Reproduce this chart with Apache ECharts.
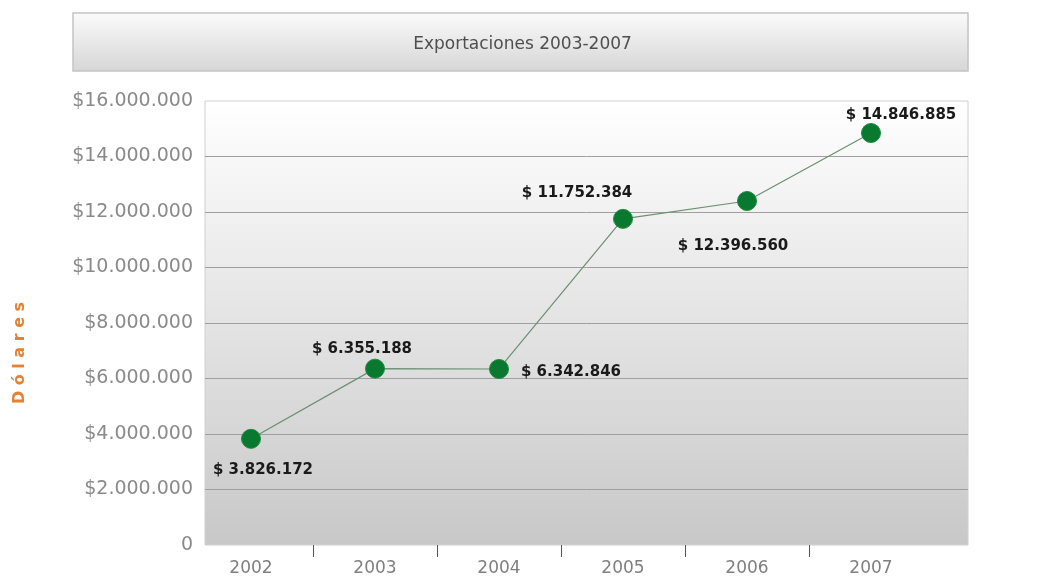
<!DOCTYPE html>
<html>
<head>
<meta charset="utf-8">
<title>Exportaciones 2003-2007</title>
<script src="https://cdn.jsdelivr.net/npm/echarts@6/dist/echarts.min.js"></script>
<style>
  html, body { margin: 0; padding: 0; background: #ffffff; }
  #chart { width: 1045px; height: 580px; }
</style>
</head>
<body>
<div id="chart"></div>
<script>
// Export values per year (US dollars)
const years = ['2002', '2003', '2004', '2005', '2006', '2007'];
const exportValues = [3826172, 6355188, 6342846, 11752384, 12396560, 14846885];

// Value axis range
const yMin = 0;
const yMax = 16000000;
const yStep = 2000000;

const chartTitle = 'Exportaciones 2003-2007';
const axisTitle = 'D ó l a r e s';

// Where each value label sits relative to its point (centre offset, px)
const labelOffsets = [[12, 31], [-13, -20], [72, 3], [-46, -26], [-14, 45], [30, -18]];

function groupThousands(v) {
  return String(v).replace(/\B(?=(\d{3})+(?!\d))/g, '.');
}

const chart = echarts.init(document.getElementById('chart'), null, { renderer: 'canvas' });

// Plot box: 205..968 horizontally, 101..545 vertically
const boxGrid = { left: 205, right: 77, top: 101, bottom: 35 };
// Category band grid for the data, slightly shifted left
const dataGrid = { left: 189, right: 112, top: 101, bottom: 35 };
// Grid whose band centres fall on the boundaries between years
const tickGrid = { left: 251, right: 174, top: 101, bottom: 35 };

const gridFont = 'DejaVu Sans';

const option = {
  backgroundColor: '#ffffff',
  animation: false,
  title: {
    text: chartTitle,
    left: 'center',
    top: 31,
    textStyle: { fontFamily: gridFont, fontSize: 17, fontWeight: 'normal', color: '#4f4f4f' }
  },
  graphic: [
    {
      type: 'rect',
      z: -10,
      shape: { x: 73, y: 13, width: 895, height: 58 },
      style: {
        fill: new echarts.graphic.LinearGradient(0, 0, 0, 1, [
          { offset: 0, color: '#fbfbfb' },
          { offset: 1, color: '#d6d6d6' }
        ]),
        stroke: '#c4c4c4',
        lineWidth: 1.5
      }
    },
    {
      type: 'text',
      x: 20,
      y: 353,
      rotation: Math.PI / 2,
      style: {
        text: axisTitle,
        fontFamily: gridFont,
        fontSize: 16,
        fontWeight: 'bold',
        fill: '#e38233',
        align: 'center',
        verticalAlign: 'middle'
      }
    }
  ],
  grid: [
    Object.assign({
      show: true,
      backgroundColor: new echarts.graphic.LinearGradient(0, 0, 0, 1, [
        { offset: 0, color: '#ffffff' },
        { offset: 1, color: '#c8c8c8' }
      ]),
      borderColor: '#d0d0d0',
      borderWidth: 1
    }, boxGrid),
    dataGrid,
    tickGrid
  ],
  xAxis: [
    { gridIndex: 0, type: 'category', data: years, show: false },
    {
      gridIndex: 1,
      type: 'category',
      data: years,
      boundaryGap: true,
      axisLine: { show: false },
      axisTick: { show: false },
      splitLine: { show: false },
      axisLabel: { color: '#7f7f7f', fontFamily: gridFont, fontSize: 17, margin: 15 }
    },
    {
      gridIndex: 2,
      type: 'category',
      data: years.slice(1),
      boundaryGap: true,
      axisLine: { show: false },
      axisTick: { show: true, alignWithLabel: true, length: 12, lineStyle: { color: '#555555', width: 1 } },
      axisLabel: { show: false },
      splitLine: { show: false }
    }
  ],
  yAxis: [
    {
      gridIndex: 0,
      type: 'value',
      min: yMin,
      max: yMax,
      interval: yStep,
      axisLine: { show: false },
      axisTick: { show: false },
      splitLine: { show: true, showMinLine: false, showMaxLine: false, lineStyle: { color: '#9f9f9f', width: 1 } },
      axisLabel: {
        color: '#8a8a8a',
        fontFamily: gridFont,
        fontSize: 19,
        margin: 12,
        formatter: function (v) { return v === 0 ? '0' : '$' + groupThousands(v); }
      }
    },
    { gridIndex: 1, type: 'value', min: yMin, max: yMax, interval: yStep, show: false, splitLine: { show: false } },
    { gridIndex: 2, type: 'value', min: yMin, max: yMax, interval: yStep, show: false, splitLine: { show: false } }
  ],
  series: [
    {
      type: 'line',
      xAxisIndex: 1,
      yAxisIndex: 1,
      data: exportValues.map(function (v, i) {
        return {
          value: v,
          label: { offset: labelOffsets[i] }
        };
      }),
      symbol: 'circle',
      symbolSize: 19,
      lineStyle: { color: '#6b8f74', width: 1.2 },
      itemStyle: { color: '#08792f', borderColor: '#1d8a42', borderWidth: 1 },
      label: {
        show: true,
        position: 'inside',
        align: 'center',
        verticalAlign: 'middle',
        color: '#1a1a1a',
        fontFamily: gridFont,
        fontWeight: 'bold',
        fontSize: 15,
        formatter: function (p) { return '$ ' + groupThousands(p.value); }
      },
      emphasis: { disabled: true },
      z: 5
    }
  ]
};

chart.setOption(option);
</script>
</body>
</html>
